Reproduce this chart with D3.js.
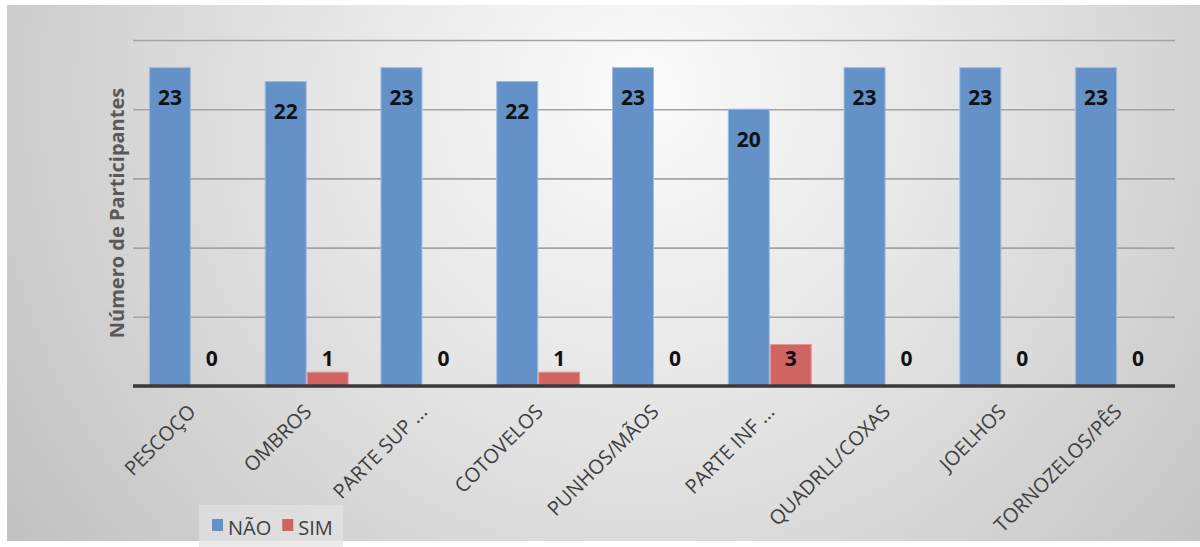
<!DOCTYPE html>
<html>
<head>
<meta charset="utf-8">
<script src="https://cdn.jsdelivr.net/npm/d3@7"></script>
<style>
  html, body { margin: 0; padding: 0; background: #ffffff; }
  svg { display: block; }
</style>
</head>
<body>
<svg id="chart" width="1200" height="547"></svg>
<script>
// Regiões do corpo e número de participantes por resposta
const categories = ["PESCOÇO", "OMBROS", "PARTE SUP ...", "COTOVELOS", "PUNHOS/MÃOS",
                    "PARTE INF ...", "QUADRLL/COXAS", "JOELHOS", "TORNOZELOS/PÊS"];
const seriesNames = ["NÃO", "SIM"];
const naoValues = [23, 22, 23, 22, 23, 20, 23, 23, 23];
const simValues = [0, 1, 0, 1, 0, 3, 0, 0, 0];
const yTicks = [0, 5, 10, 15, 20, 25];

const colors = { "NÃO": "#6391c8", "SIM": "#cf6461" };
const strokes = { "NÃO": "#9dbbe0", "SIM": "#e39a98" };

const rows = categories.map((c, i) => ({ cat: c, "NÃO": naoValues[i], "SIM": simValues[i] }));

const svg = d3.select("#chart");
const W = 1200, H = 547;

// Fundo com gradiente radial
const defs = svg.append("defs");
const grad = defs.append("radialGradient")
  .attr("id", "bg")
  .attr("gradientUnits", "userSpaceOnUse")
  .attr("cx", 640).attr("cy", 90).attr("r", 760);
grad.append("stop").attr("offset", "0").attr("stop-color", "#fbfbfb");
grad.append("stop").attr("offset", "0.45").attr("stop-color", "#e4e4e4");
grad.append("stop").attr("offset", "1").attr("stop-color", "#c2c2c2");

svg.append("rect").attr("x", 7).attr("y", 5).attr("width", W - 7).attr("height", 536)
  .attr("fill", "url(#bg)");

const plot = { left: 133, right: 1175, top: 40, bottom: 386 };

const x0 = d3.scaleBand().domain(categories).range([plot.left, plot.right])
  .paddingInner(0.275).paddingOuter(0.1375);
const x1 = d3.scaleBand().domain(seriesNames).range([0, x0.bandwidth()]).padding(0);
const y = d3.scaleLinear().domain([0, 25]).range([plot.bottom, plot.top]);

// Linhas de grade
const gridAxis = d3.axisLeft(y).tickValues(yTicks).tickSize(-(plot.right - plot.left)).tickFormat("");
const grid = svg.append("g").attr("transform", `translate(${plot.left},0)`).call(gridAxis);
grid.select(".domain").remove();
grid.selectAll(".tick line").attr("stroke", "#a3a3a3").attr("stroke-width", 1.6);

// Barras
const groups = svg.append("g").selectAll("g").data(rows).join("g")
  .attr("transform", d => `translate(${x0(d.cat)},0)`);

groups.selectAll("rect").data(d => seriesNames.map(k => ({ key: k, value: d[k] }))).join("rect")
  .attr("x", d => x1(d.key) + 0.5)
  .attr("width", x1.bandwidth() - 1)
  .attr("y", d => y(d.value))
  .attr("height", d => y(0) - y(d.value))
  .attr("fill", d => colors[d.key])
  .attr("stroke", d => d.value > 0 ? strokes[d.key] : "none")
  .attr("stroke-width", 1);

// Rótulos de valor
groups.selectAll("text").data(d => seriesNames.map(k => ({ key: k, value: d[k] }))).join("text")
  .attr("x", d => x1(d.key) + x1.bandwidth() / 2)
  .attr("y", d => Math.min(y(d.value) + 30, y(0) - 28))
  .attr("dy", "0.36em")
  .attr("text-anchor", "middle")
  .attr("font-family", "'Open Sans', sans-serif")
  .attr("font-weight", "bold")
  .attr("font-size", 21)
  .attr("fill", "#111111")
  .text(d => d.value);

// Eixo X
const xAxis = svg.append("g").attr("transform", `translate(0,${plot.bottom})`)
  .call(d3.axisBottom(x0).tickSize(0).tickPadding(0));
xAxis.select(".domain").attr("stroke", "#3a3a3a").attr("stroke-width", 3.5)
  .attr("d", `M${plot.left},0H${plot.right}`);
xAxis.selectAll(".tick text")
  .attr("font-family", "'Open Sans', sans-serif")
  .attr("font-size", 20)
  .attr("fill", "#404040")
  .attr("text-anchor", "end")
  .attr("dy", 0)
  .attr("y", 0)
  .attr("transform", "translate(6,27) rotate(-45)");

// Título do eixo Y
svg.append("text")
  .attr("transform", `translate(124,${(plot.top + plot.bottom) / 2}) rotate(-90)`)
  .attr("text-anchor", "middle")
  .attr("font-family", "'Open Sans', sans-serif")
  .attr("font-weight", "bold")
  .attr("font-size", 20)
  .attr("fill", "#595959")
  .text("Número de Participantes");

// Legenda
const legend = svg.append("g").attr("transform", "translate(199,505)");
legend.append("rect").attr("width", 144).attr("height", 42).attr("fill", "#e3e3e3").attr("opacity", 0.7);
let lx = 13;
seriesNames.forEach(name => {
  legend.append("rect").attr("x", lx).attr("y", 14).attr("width", 11).attr("height", 12)
    .attr("fill", colors[name]);
  const t = legend.append("text").attr("x", lx + 16).attr("y", 30)
    .attr("font-family", "'Open Sans', sans-serif")
    .attr("font-size", 20)
    .attr("fill", "#404040")
    .text(name);
  lx += 16 + t.node().getComputedTextLength() + 11;
});
</script>
</body>
</html>
